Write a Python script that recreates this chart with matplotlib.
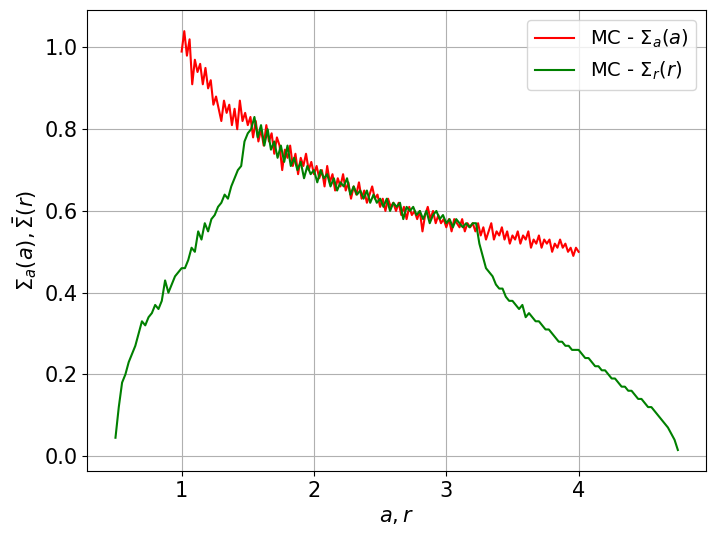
import matplotlib
matplotlib.use("Agg")
import matplotlib.pyplot as plt
import numpy as np

plt.rcParams['font.size'] = 15

# MC estimate of Sigma_a(a), a from 1 to 4
sigma_a = [0.99, 1.04, 0.98, 1.02, 0.91, 0.97, 0.94, 0.96, 0.91, 0.95,
           0.90, 0.92, 0.86, 0.88, 0.85, 0.82, 0.87, 0.84, 0.86, 0.81,
           0.85, 0.80, 0.87, 0.82, 0.84, 0.81, 0.83, 0.78, 0.82, 0.77,
           0.80, 0.76, 0.81, 0.77, 0.79, 0.74, 0.78, 0.76, 0.70, 0.75,
           0.73, 0.76, 0.71, 0.74, 0.69, 0.73, 0.71, 0.74, 0.70, 0.72,
           0.69, 0.71, 0.68, 0.70, 0.66, 0.71, 0.67, 0.69, 0.65, 0.68,
           0.66, 0.69, 0.65, 0.67, 0.63, 0.66, 0.64, 0.67, 0.63, 0.65,
           0.62, 0.64, 0.66, 0.63, 0.64, 0.61, 0.63, 0.60, 0.63, 0.61,
           0.62, 0.60, 0.62, 0.59, 0.61, 0.58, 0.61, 0.59, 0.60, 0.58,
           0.60, 0.55, 0.59, 0.61, 0.58, 0.60, 0.57, 0.59, 0.57, 0.58,
           0.56, 0.58, 0.55, 0.58, 0.57, 0.56, 0.58, 0.55, 0.57, 0.56,
           0.57, 0.55, 0.57, 0.54, 0.56, 0.53, 0.55, 0.57, 0.53, 0.55,
           0.54, 0.56, 0.53, 0.55, 0.52, 0.54, 0.53, 0.55, 0.52, 0.54,
           0.53, 0.55, 0.51, 0.53, 0.52, 0.54, 0.51, 0.53, 0.52, 0.53,
           0.50, 0.52, 0.51, 0.53, 0.51, 0.52, 0.50, 0.51, 0.49, 0.51,
           0.50]

# MC estimate of Sigma_r(r), r from 0.5 to 4.75
sigma_r = [0.045, 0.12, 0.18, 0.20, 0.23, 0.25, 0.27, 0.30, 0.33, 0.32,
           0.34, 0.35, 0.37, 0.36, 0.38, 0.43, 0.40, 0.42, 0.44, 0.45,
           0.46, 0.46, 0.48, 0.51, 0.50, 0.55, 0.53, 0.57, 0.55, 0.58,
           0.59, 0.61, 0.62, 0.64, 0.63, 0.66, 0.68, 0.70, 0.71, 0.77,
           0.79, 0.80, 0.83, 0.78, 0.81, 0.76, 0.80, 0.75, 0.77, 0.73,
           0.76, 0.72, 0.76, 0.71, 0.73, 0.70, 0.72, 0.68, 0.71, 0.69,
           0.70, 0.67, 0.70, 0.68, 0.69, 0.66, 0.68, 0.65, 0.67, 0.66,
           0.68, 0.64, 0.66, 0.64, 0.65, 0.63, 0.65, 0.62, 0.64, 0.62,
           0.63, 0.61, 0.63, 0.60, 0.62, 0.61, 0.62, 0.58, 0.61, 0.60,
           0.61, 0.59, 0.60, 0.58, 0.60, 0.57, 0.59, 0.60, 0.58, 0.59,
           0.57, 0.58, 0.56, 0.58, 0.57, 0.56, 0.57, 0.56, 0.57, 0.57,
           0.52, 0.49, 0.46, 0.45, 0.44, 0.42, 0.41, 0.41, 0.39, 0.38,
           0.38, 0.37, 0.36, 0.37, 0.34, 0.35, 0.34, 0.33, 0.33, 0.32,
           0.31, 0.31, 0.30, 0.29, 0.28, 0.28, 0.27, 0.27, 0.26, 0.26,
           0.26, 0.25, 0.24, 0.24, 0.23, 0.22, 0.22, 0.21, 0.21, 0.20,
           0.19, 0.19, 0.18, 0.17, 0.17, 0.16, 0.16, 0.15, 0.14, 0.14,
           0.13, 0.12, 0.12, 0.11, 0.10, 0.09, 0.08, 0.07, 0.055, 0.04,
           0.015]

a = np.linspace(1.0, 4.0, len(sigma_a))
r = np.linspace(0.5, 4.75, len(sigma_r))

fig, ax = plt.subplots(figsize=(7.16, 5.37), dpi=100)
fig.subplots_adjust(left=0.122, right=0.986, bottom=0.123, top=0.981)

ax.plot(a, sigma_a, c='red', label=r'MC - $\Sigma_a(a)$')
ax.plot(r, sigma_r, c='green', label=r'MC - $\Sigma_r(r)$')

ax.set_xlabel(r'$a, r$')
ax.set_ylabel(r'$\Sigma_a(a), \bar{\Sigma}(r)$')
ax.grid(True)
ax.legend(loc='upper right', fontsize=14)

fig.savefig('out.png')
